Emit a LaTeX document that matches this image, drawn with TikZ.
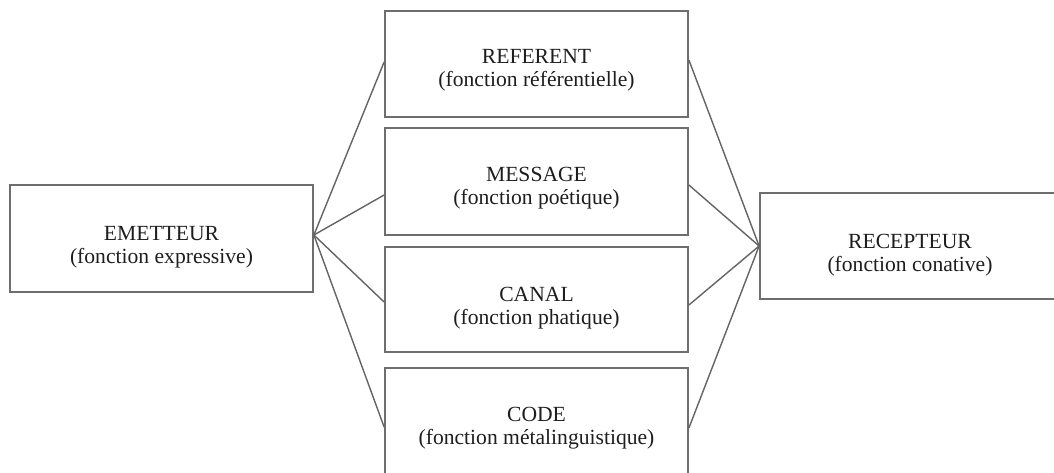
\documentclass[tikz,border=0pt]{standalone}
\usepackage{fontspec}
\setmainfont{Liberation Serif}
\begin{document}
\begin{tikzpicture}[x=0.5pt,y=-0.5pt,
  boxnode/.style={draw={rgb,255:red,110;green,110;blue,110}, line width=0.9pt, inner sep=0pt},
  txtnode/.style={align=center, inner sep=0pt, text={rgb,255:red,30;green,30;blue,30}, font=\fontsize{10.8}{11.6}\selectfont},
  link/.style={draw={rgb,255:red,100;green,100;blue,100}, line width=0.7pt}]
\useasboundingbox (0,0) rectangle (1054,472);
\clip (0,0) rectangle (1054,472);
\fill[white] (0,0) rectangle (1054,472);
% boxes
\node[boxnode, minimum width=151.5pt, minimum height=53.5pt] (em) at (161.5,238.5) {};
\node[boxnode, minimum width=151.5pt, minimum height=53pt] (ref) at (536.5,64) {};
\node[boxnode, minimum width=151.5pt, minimum height=53.5pt] (msg) at (536.5,181.5) {};
\node[boxnode, minimum width=151.5pt, minimum height=52.5pt] (can) at (536.5,299.5) {};
\node[boxnode, minimum width=151.5pt, minimum height=53pt] (code) at (536.5,421) {};
\node[boxnode, minimum width=150pt, minimum height=53pt] (rec) at (910,246) {};
% texts
\node[txtnode] (emt) at ([yshift=-4.5pt]em.center) {EMETTEUR\\(fonction expressive)};
\node[txtnode] (reft) at ([yshift=-3pt]ref.center) {REFERENT\\(fonction référentielle)};
\node[txtnode] (msgt) at ([yshift=-3.3pt]msg.center) {MESSAGE\\(fonction poétique)};
\node[txtnode] (cant) at ([yshift=-4.3pt]can.center) {CANAL\\(fonction phatique)};
\node[txtnode] (codet) at ([yshift=-3.7pt]code.center) {CODE\\(fonction métalinguistique)};
\node[txtnode] (rect) at ([yshift=-4.5pt]rec.center) {RECEPTEUR\\(fonction conative)};
% connectors left
\coordinate (ea) at ([yshift=1.75pt]em.east);
\draw[link] (ea) -- ([yshift=1pt]ref.west);
\draw[link] (ea) -- ([yshift=-6.75pt]msg.west);
\draw[link] (ea) -- ([yshift=-1.25pt]can.west);
\draw[link] (ea) -- ([yshift=-3pt]code.west);
% connectors right
\draw[link] ([yshift=2pt]ref.east) -- (rec.west);
\draw[link] ([yshift=-1.75pt]msg.east) -- (rec.west);
\draw[link] ([yshift=-2.75pt]can.east) -- (rec.west);
\draw[link] ([yshift=-3.5pt]code.east) -- (rec.west);
\end{tikzpicture}
\end{document}
